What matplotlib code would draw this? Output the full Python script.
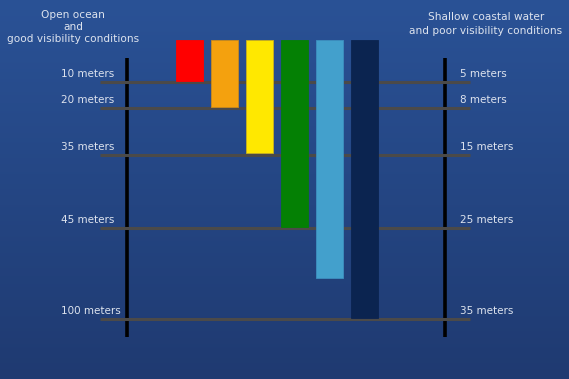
import numpy as np
import matplotlib
matplotlib.use("Agg")
from matplotlib import pyplot as plt
from matplotlib.colors import LinearSegmentedColormap

# depth labels for the two visibility scenarios
left_labels = ['10 meters', '20 meters', '35 meters', '45 meters', '100 meters']
right_labels = ['5 meters', '8 meters', '15 meters', '25 meters', '35 meters']
# position of each depth line on the chart's depth scale (0 = surface, top of bars)
level_pos = [42, 68, 115, 188, 279]
# how deep each colour of light reaches on the same scale
bar_colors = ['#ff0000', '#f4a10e', '#ffe800', '#048004', '#43a0cc', '#0b2450']
bar_edges = ['#ff0000', '#c98a1c', '#c9b020', '#048004', '#3d8fbf', '#0b2450']
bar_reach = [41, 67, 113, 187, 238, 278]

W, H = 569, 379
top = 40  # surface on the pixel grid

fig = plt.figure(figsize=(W / 100, H / 100), dpi=100)
ax = fig.add_axes([0, 0, 1, 1])
ax.set_xlim(0, W)
ax.set_ylim(H, 0)
ax.axis('off')

# background gradient
cmap = LinearSegmentedColormap.from_list('bg', ['#2a5296', '#1f3a71'], N=1024)
grad = np.linspace(0, 1, 1024).reshape(-1, 1)
ax.imshow(grad, cmap=cmap, extent=[0, W, H, 0], aspect='auto', zorder=0,
          interpolation='bilinear')

txt = '#dde3ee'
font = 'DejaVu Sans'

# vertical scale bars
for x in (127, 445):
    ax.plot([x, x], [58, 337], color='black', lw=2.6, solid_capstyle='butt', zorder=1)

# depth lines and labels
for i, p in enumerate(level_pos):
    y = top + p
    ax.plot([100, 470], [y, y], color='#4b4a49', lw=2.2, solid_capstyle='butt', zorder=2)
    ax.text(61, y - 8, left_labels[i], color=txt, fontsize=7.5, family=font,
            ha='left', va='center', zorder=4)
    ax.text(460, y - 8, right_labels[i], color=txt, fontsize=7.5, family=font,
            ha='left', va='center', zorder=4)

# light penetration bars
xs = 189.5 + 35 * np.arange(len(bar_reach))
ax.bar(xs, bar_reach, bottom=top, width=27, color=bar_colors,
       edgecolor=bar_edges, linewidth=0.6, zorder=3)

# headers
ax.text(73, 27, 'Open ocean\nand\ngood visibility conditions', color=txt,
        fontsize=7.6, family=font, ha='center', va='center', linespacing=1.25)
ax.text(486, 24, 'Shallow coastal water\nand poor visibility conditions', color=txt,
        fontsize=7.6, family=font, ha='center', va='center', linespacing=1.45)

fig.savefig('out.png', dpi=100)
